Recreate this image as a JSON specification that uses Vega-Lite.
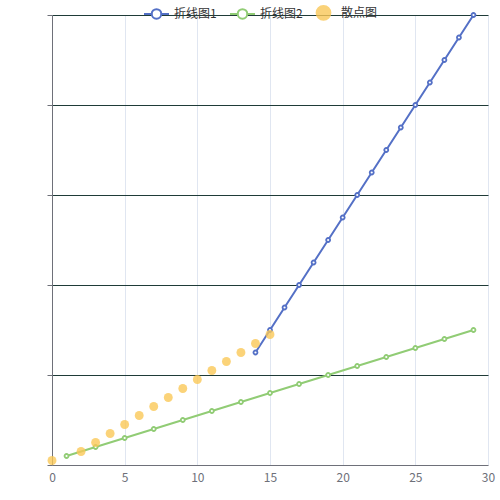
{
  "$schema": "https://vega.github.io/schema/vega-lite/v6.json",
  "width": 436,
  "height": 450,
  "autosize": {"type": "none"},
  "padding": {"left": 52, "top": 15, "right": 12, "bottom": 35},
  "background": "white",
  "config": {"view": {"stroke": null}, "font": "Noto Sans CJK SC"},
  "data": {
    "values": [
      {"series": "折线图1", "x": 14, "y": 12.5},
      {"series": "折线图1", "x": 15, "y": 15},
      {"series": "折线图1", "x": 16, "y": 17.5},
      {"series": "折线图1", "x": 17, "y": 20},
      {"series": "折线图1", "x": 18, "y": 22.5},
      {"series": "折线图1", "x": 19, "y": 25},
      {"series": "折线图1", "x": 20, "y": 27.5},
      {"series": "折线图1", "x": 21, "y": 30},
      {"series": "折线图1", "x": 22, "y": 32.5},
      {"series": "折线图1", "x": 23, "y": 35},
      {"series": "折线图1", "x": 24, "y": 37.5},
      {"series": "折线图1", "x": 25, "y": 40},
      {"series": "折线图1", "x": 26, "y": 42.5},
      {"series": "折线图1", "x": 27, "y": 45},
      {"series": "折线图1", "x": 28, "y": 47.5},
      {"series": "折线图1", "x": 29, "y": 50},
      {"series": "折线图2", "x": 1, "y": 1},
      {"series": "折线图2", "x": 3, "y": 2},
      {"series": "折线图2", "x": 5, "y": 3},
      {"series": "折线图2", "x": 7, "y": 4},
      {"series": "折线图2", "x": 9, "y": 5},
      {"series": "折线图2", "x": 11, "y": 6},
      {"series": "折线图2", "x": 13, "y": 7},
      {"series": "折线图2", "x": 15, "y": 8},
      {"series": "折线图2", "x": 17, "y": 9},
      {"series": "折线图2", "x": 19, "y": 10},
      {"series": "折线图2", "x": 21, "y": 11},
      {"series": "折线图2", "x": 23, "y": 12},
      {"series": "折线图2", "x": 25, "y": 13},
      {"series": "折线图2", "x": 27, "y": 14},
      {"series": "折线图2", "x": 29, "y": 15},
      {"series": "散点图", "x": 0, "y": 0.5},
      {"series": "散点图", "x": 2, "y": 1.5},
      {"series": "散点图", "x": 3, "y": 2.5},
      {"series": "散点图", "x": 4, "y": 3.5},
      {"series": "散点图", "x": 5, "y": 4.5},
      {"series": "散点图", "x": 6, "y": 5.5},
      {"series": "散点图", "x": 7, "y": 6.5},
      {"series": "散点图", "x": 8, "y": 7.5},
      {"series": "散点图", "x": 9, "y": 8.5},
      {"series": "散点图", "x": 10, "y": 9.5},
      {"series": "散点图", "x": 11, "y": 10.5},
      {"series": "散点图", "x": 12, "y": 11.5},
      {"series": "散点图", "x": 13, "y": 12.5},
      {"series": "散点图", "x": 14, "y": 13.5},
      {"series": "散点图", "x": 15, "y": 14.5}
    ]
  },
  "encoding": {
    "x": {
      "field": "x",
      "type": "quantitative",
      "scale": {"domain": [0, 30], "nice": false, "zero": false},
      "axis": {
        "title": null,
        "values": [0, 5, 10, 15, 20, 25, 30],
        "grid": true,
        "gridColor": {"condition": {"test": "datum.value === 0", "value": "transparent"}, "value": "#e0e6f1"},
        "gridWidth": 1,
        "domainColor": "#6e7079",
        "domainWidth": 1,
        "ticks": false,
        "labelColor": "#6e7079",
        "labelFontSize": 12,
        "labelPadding": 7,
        "labelFlush": false,
        "labelFont": "Noto Sans CJK SC"
      }
    },
    "y": {
      "field": "y",
      "type": "quantitative",
      "scale": {"domain": [0, 50], "nice": false},
      "axis": {
        "title": null,
        "values": [0, 10, 20, 30, 40, 50],
        "labels": false,
        "grid": true,
        "gridColor": {"condition": {"test": "datum.value === 0", "value": "transparent"}, "value": "#1f3b38"},
        "gridWidth": 1,
        "domainColor": "#6e7079",
        "domainWidth": 1,
        "ticks": true,
        "tickColor": "#6e7079",
        "tickSize": 5,
        "tickWidth": 1
      }
    },
    "color": {
      "field": "series",
      "type": "nominal",
      "scale": {"domain": ["折线图1", "折线图2", "散点图"], "range": ["#5470c6", "#91cc75", "#fac858"]},
      "legend": {
        "title": null,
        "orient": "none",
        "legendX": 91,
        "legendY": -16,
        "direction": "horizontal",
        "padding": 0,
        "symbolSize": 625,
        "symbolStrokeWidth": 2,
        "labelFont": "Noto Sans CJK SC",
        "labelFontSize": 12,
        "labelColor": "#333333",
        "labelOffset": 4,
        "columnPadding": 9,
        "encoding": {
          "symbols": {
            "shape": {
              "condition": {"test": "datum.value === '散点图'", "value": "M0.07,0A0.55,0.55,0,1,1,-1.03,0A0.55,0.55,0,1,1,0.07,0Z"},
              "value": "M-1,0L-0.38,0M0.38,0L1,0M0.38,0A0.38,0.38,0,1,1,-0.38,0A0.38,0.38,0,1,1,0.38,0Z"
            },
            "fill": {"condition": {"test": "datum.value === '散点图'", "value": "#fac858"}, "value": "#ffffff"},
            "stroke": {
              "condition": [
                {"test": "datum.value === '折线图1'", "value": "#5470c6"},
                {"test": "datum.value === '折线图2'", "value": "#91cc75"}
              ],
              "value": "transparent"
            },
            "opacity": {"condition": {"test": "datum.value === '散点图'", "value": 0.8}, "value": 1}
          },
          "labels": {
            "dx": {"condition": {"test": "datum.value === '散点图'", "value": -6}, "value": 0}
          }
        }
      }
    }
  },
  "layer": [
    {
      "transform": [{"filter": "datum.series !== '散点图'"}],
      "mark": {"type": "line", "strokeWidth": 2}
    },
    {
      "transform": [{"filter": "datum.series !== '散点图'"}],
      "mark": {"type": "point", "filled": false, "fill": "#ffffff", "size": 16, "strokeWidth": 1.8, "opacity": 1}
    },
    {
      "transform": [{"filter": "datum.series === '散点图'"}],
      "mark": {"type": "point", "shape": "circle", "filled": true, "size": 79, "opacity": 0.8},
      "encoding": {"color": {"value": "#fac858"}}
    }
  ]
}
